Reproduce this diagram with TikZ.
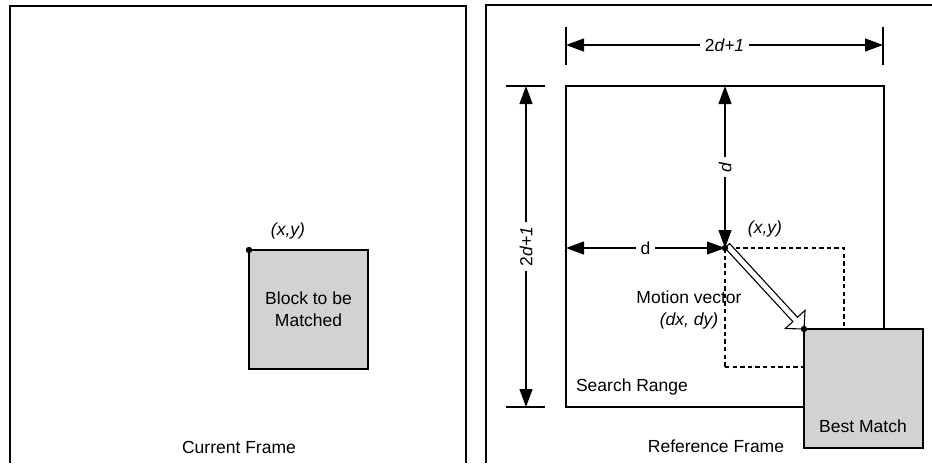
\documentclass[tikz,border=0pt]{standalone}
\usepackage{fontspec}
\setmainfont{Liberation Sans}
\usetikzlibrary{positioning,calc,arrows.meta}
\definecolor{BlockGray}{HTML}{D2D2D2}

\begin{document}
\begin{tikzpicture}[x=0.5pt,y=-0.5pt,>={Triangle[length=9pt,width=6.5pt]},
  font=\fontsize{8.75}{11}\selectfont]
  \tikzstyle{framestyle}=[line width=0.6pt]
  \tikzstyle{blockbox}=[draw,line width=0.65pt,fill=BlockGray,minimum width=59.5pt,
    minimum height=59.5pt,inner sep=0pt,outer sep=0pt,align=center]
  \tikzstyle{winbox}=[draw,dash pattern=on 2.2pt off 1.6pt,line width=0.6pt,
    minimum width=59.5pt,minimum height=59.5pt,inner sep=0pt,outer sep=0pt]
  \tikzstyle{rangebox}=[draw,line width=0.65pt,minimum width=159pt,
    minimum height=160.5pt,inner sep=0pt,outer sep=0pt]
  \tikzstyle{dimline}=[<->,line width=0.55pt]
  \tikzstyle{dimtxt}=[fill=white,inner sep=2.5pt]
  \tikzstyle{pointdot}=[fill,circle,inner sep=0pt,minimum size=3.2pt]
  \useasboundingbox (0,0) rectangle (932,463);
  \draw[framestyle] (10,463) -- (10,6) -- (466,6) -- (466,463);
  \draw[framestyle] (486,463) -- (486,5) -- (932,5);
  \node[blockbox] (blk) at (308.5,309.5) {Block to be\\Matched};
  \node[pointdot] (xyL) at (blk.north west) {};
  \node (xyLtxt) at (288,231) {\textit{(x,y)}};
  \node (curTxt) at (239,447) {Current Frame};
  \node[rangebox] (sr) at (725,246.5) {};
  \coordinate (xyR) at (725,248);
  \coordinate (bmC) at (804,329);
  \node[winbox,anchor=north west] (win) at (xyR) {};
  \coordinate (topL) at (566,45);
  \coordinate (topR) at (883,45);
  \draw[framestyle] (566,27) -- (566,65);
  \draw[framestyle] (883,27) -- (883,65);
  \draw[dimline] (topL) -- node[dimtxt] {2\textit{d+1}} (topR);
  \coordinate (lftT) at (526,86);
  \coordinate (lftB) at (526,407);
  \draw[framestyle] (506,86) -- (545,86);
  \draw[framestyle] (506,407) -- (545,407);
  \draw[dimline] (lftT) -- node[dimtxt,rotate=90] {2\textit{d+1}} (lftB);
  \draw[dimline] (sr.north -| xyR) -- node[dimtxt,rotate=90] {\textit{d}} (xyR);
  \draw[dimline] (sr.west |- xyR) -- node[dimtxt] {d} (xyR);
  \coordinate (mvS) at ($(xyR)!1.6pt!90:(bmC)$);
  \draw[line width=0.55pt,fill=white] ($(mvS)!1.6pt!90:(bmC)$)
    -- ($(bmC)!6.5pt!(mvS)!1.6pt!-90:(mvS)$)
    -- ($(bmC)!6.5pt!(mvS)!6.7pt!-90:(mvS)$) -- (bmC)
    -- ($(bmC)!6.5pt!(mvS)!6.7pt!90:(mvS)$)
    -- ($(bmC)!6.5pt!(mvS)!1.6pt!90:(mvS)$)
    -- ($(mvS)!1.6pt!-90:(bmC)$) -- cycle;
  \node[blockbox,anchor=north west] (bm) at (bmC) {};
  \node (bmTxt) at (863,426) {Best Match};
  \node[pointdot] (xyRdot) at (xyR) {};
  \node[pointdot] (bmdot) at (bmC) {};
  \node (xyRtxt) at (765,229) {\textit{(x,y)}};
  \node[align=center] (mvTxt) at (689,310) {Motion vector\\\textit{(dx, dy)}};
  \node (srTxt) at (632,387) {Search Range};
  \node (refTxt) at (716,446) {Reference Frame};
\end{tikzpicture}
\end{document}
